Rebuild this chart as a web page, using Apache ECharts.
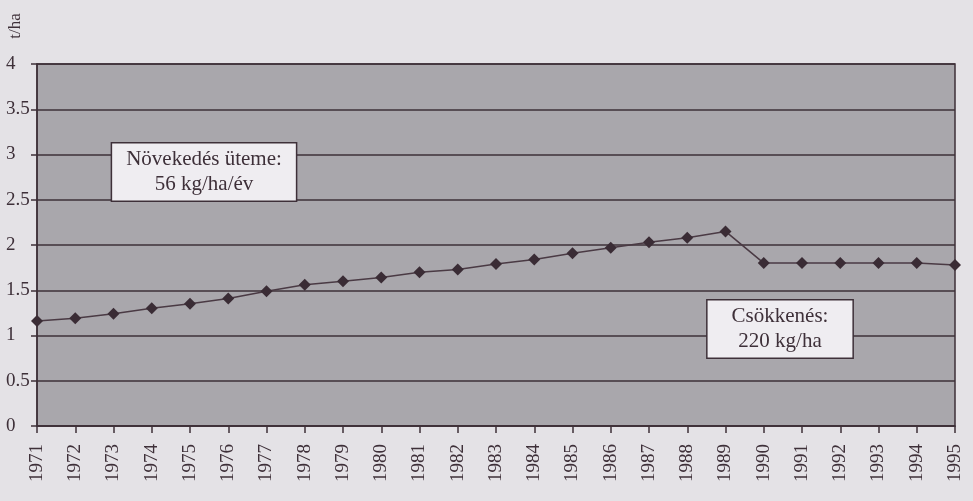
<!DOCTYPE html>
<html><head><meta charset="utf-8">
<script src="https://cdn.jsdelivr.net/npm/echarts@6/dist/echarts.min.js"></script>
<style>html,body{margin:0;padding:0;background:#e4e2e6;}#c{width:973px;height:501px;}</style>
</head><body><div id="c"></div>
<script>
const years = ['1971','1972','1973','1974','1975','1976','1977','1978','1979','1980','1981','1982','1983','1984','1985','1986','1987','1988','1989','1990','1991','1992','1993','1994','1995'];
const yields = [1.16,1.19,1.24,1.30,1.35,1.41,1.49,1.56,1.60,1.64,1.70,1.73,1.79,1.84,1.91,1.97,2.03,2.08,2.15,1.80,1.80,1.80,1.80,1.80,1.78];
const yTicks = [0,0.5,1,1.5,2,2.5,3,3.5,4];
const unitLabel = 't/ha';
const noteGrowth = 'Növekedés üteme:\n56 kg/ha/év';
const noteDrop = 'Csökkenés:\n220 kg/ha';

const ink = '#3e3039';
const serif = '"Liberation Serif","DejaVu Serif",serif';
const chart = echarts.init(document.getElementById('c'));
chart.setOption({
  backgroundColor: '#e4e2e6',
  animation: false,
  grid: {left: 37, right: 18, top: 64, bottom: 75, show: true, backgroundColor: '#a9a7ac', borderColor: ink, borderWidth: 1.5},
  xAxis: {
    type: 'category', data: years, boundaryGap: false,
    axisLine: {lineStyle: {color: ink, width: 1.5}},
    axisTick: {show: true, length: 7, lineStyle: {color: ink, width: 1.5}},
    axisLabel: {rotate: 90, color: ink, fontFamily: serif, fontSize: 19, margin: 18, interval: 0}
  },
  yAxis: {
    type: 'value', min: 0, max: 4, interval: 0.5,
    axisLine: {show: true, lineStyle: {color: ink, width: 1.5}},
    axisTick: {show: true, length: 6, lineStyle: {color: ink, width: 1.5}},
    axisLabel: {color: ink, fontFamily: serif, fontSize: 19, margin: 31, align: 'left',
      formatter: v => yTicks.includes(v) ? String(v) : ''},
    splitLine: {show: true, lineStyle: {color: ink, width: 1.5}}
  },
  series: [{
    type: 'line', data: yields, symbol: 'diamond', symbolSize: 12,
    lineStyle: {color: '#4a3a44', width: 1.5},
    itemStyle: {color: '#3a2c35'}
  }],
  graphic: [
    {type: 'text', x: 16, y: 26, rotation: Math.PI / 2, z: 100, style: {text: unitLabel, align: 'center', verticalAlign: 'middle',
      font: '17px ' + serif, fill: ink}},
    {type: 'text', x: 204, y: 172, z: 100, style: {text: noteGrowth, align: 'center', verticalAlign: 'middle',
      font: '21px ' + serif, fill: ink, lineHeight: 25, backgroundColor: '#efedf1', borderColor: ink, borderWidth: 1.5, padding: [4, 14, 3, 14]}},
    {type: 'text', x: 780, y: 329, z: 100, style: {text: noteDrop, align: 'center', verticalAlign: 'middle',
      font: '21px ' + serif, fill: ink, lineHeight: 25, backgroundColor: '#efedf1', borderColor: ink, borderWidth: 1.5, padding: [4, 24, 3, 24]}}
  ]
});
</script></body></html>
